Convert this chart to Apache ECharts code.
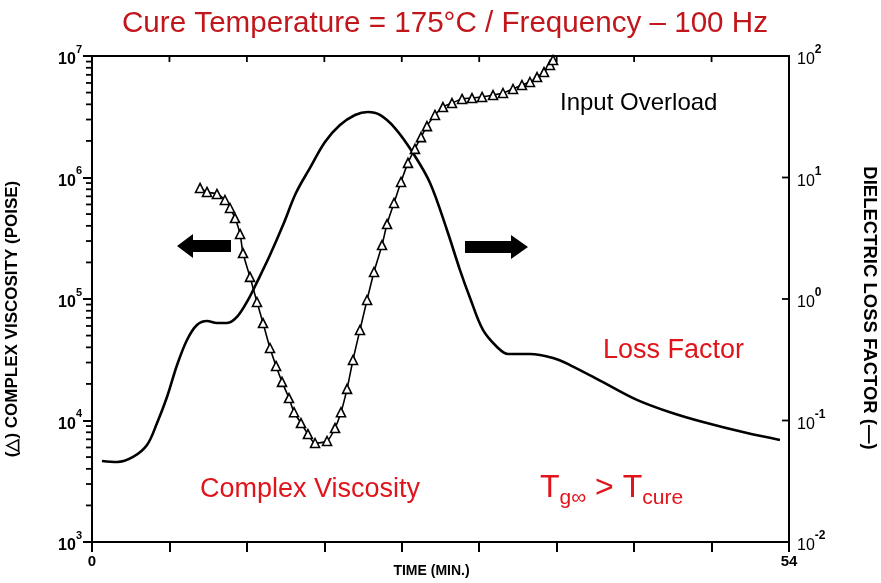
<!DOCTYPE html>
<html><head><meta charset="utf-8">
<script src="https://cdn.jsdelivr.net/npm/echarts@6/dist/echarts.min.js"></script>
<style>html,body{margin:0;padding:0;background:#fff}#c{width:881px;height:583px}</style>
</head><body><div id="c"></div>
<script>
// ---- data ----
const lossTime = [0.77,1.94,3.18,4.26,5.04,5.81,6.59,7.36,8.13,8.91,9.68,10.46,11.23,12.09,12.86,13.79,14.80,15.80,16.89,18.05,19.21,20.38,21.38,22.31,23.47,24.87,26.19,27.50,28.51,29.29,30.29,31.38,32.23,33.93,35.72,37.03,39.59,42.22,44.78,47.34,50.75,53.30];
const lossFactor = [0.0464,0.0455,0.0501,0.0628,0.0953,0.156,0.286,0.460,0.611,0.659,0.634,0.634,0.711,0.982,1.43,2.30,4.06,7.45,12.0,19.6,27.0,32.7,34.6,32.7,25.5,15.9,9.02,3.70,1.73,1.02,0.556,0.403,0.353,0.353,0.327,0.286,0.207,0.148,0.117,0.0972,0.0788,0.0692];
const viscTime = [8.37,8.91,9.68,10.30,10.69,11.08,11.47,11.70,12.24,12.78,13.25,13.79,14.26,14.72,15.26,15.65,16.19,16.73,17.28,18.21,18.83,19.29,19.76,20.22,20.76,21.31,21.85,22.47,22.86,23.40,23.94,24.48,25.02,25.49,25.95,26.57,27.19,27.89,28.67,29.44,30.22,31.07,31.84,32.62,33.31,33.93,34.48,35.02,35.48,35.72];
const viscosity = [8.20e5,7.60e5,7.32e5,6.53e5,5.61e5,4.64e5,3.43e5,2.39e5,1.52e5,9.45e4,6.34e4,3.95e4,2.81e4,2.08e4,1.53e4,1.17e4,9.53e3,7.74e3,6.53e3,6.78e3,8.67e3,1.17e4,1.82e4,3.15e4,5.56e4,9.82e4,1.67e5,2.78e5,4.14e5,6.17e5,9.19e5,1.32e6,1.72e6,2.15e6,2.65e6,3.27e6,3.80e6,4.10e6,4.43e6,4.51e6,4.60e6,4.77e6,4.96e6,5.35e6,5.77e6,6.11e6,6.71e6,7.38e6,8.43e6,9.27e6];
const xLabelled = [0, 54];
const xInnerTicks = [6, 12, 18, 24, 30, 36, 42, 48];
const rightInnerTicks = [0.1, 1, 10];
const leftDecades = [1e3, 1e4, 1e5, 1e6];
const minorMultipliers = [2, 3, 4, 5, 6, 7, 8, 9];

const minorTickValues = [];
leftDecades.forEach(d => minorMultipliers.forEach(m => minorTickValues.push([0, d * m])));

const FONT = 'Liberation Sans';
const RED = '#E0141B';
const exp = v => String(Math.round(Math.log10(v)));

const chart = echarts.init(document.getElementById('c'), null, {renderer: 'canvas'});
const axisLine = {show: true, onZero: false, lineStyle: {color: '#000', width: 2}};
const tickSeries = (name, yIdx, data, dx, dy) => ({
  name: name, type: 'custom', xAxisIndex: 0, yAxisIndex: yIdx, clip: false, silent: true, z: 5,
  data: data,
  renderItem: (params, api) => {
    const p = api.coord([api.value(0), api.value(1)]);
    return {type: 'line', shape: {x1: p[0] + dx, y1: p[1] + dy, x2: p[0], y2: p[1]},
            style: {stroke: '#000', lineWidth: 1.8}};
  }
});
const option = {
  animation: false,
  backgroundColor: '#fff',
  title: {
    text: 'Cure Temperature = 175°C / Frequency – 100 Hz',
    left: 117, top: 4,
    textStyle: {color: '#C0161C', fontSize: 29.6, fontWeight: 'normal', fontFamily: FONT}
  },
  grid: {left: 92, right: 92, top: 56, bottom: 41, outerBoundsMode: 'none', containLabel: false},
  xAxis: [{
    type: 'value', min: 0, max: 54, interval: 6, position: 'bottom',
    axisLine: axisLine,
    axisTick: {show: true, inside: false, length: 10, lineStyle: {color: '#000', width: 2}},
    axisLabel: {
      formatter: v => xLabelled.includes(v) ? String(v) : '',
      color: '#000', fontWeight: 'bold', fontSize: 15, fontFamily: FONT, margin: 12
    },
    splitLine: {show: false},
    name: 'TIME (MIN.)', nameLocation: 'middle', nameGap: 22, nameMoveOverlap: false,
    nameTextStyle: {color: '#000', fontWeight: 'bold', fontSize: 14, fontFamily: FONT, verticalAlign: 'top', padding: [0, 18, 0, 0]}
  }, {
    type: 'value', min: 0, max: 54, interval: 6, position: 'top',
    axisLine: axisLine,
    axisTick: {show: false},
    axisLabel: {show: false}, splitLine: {show: false}
  }],
  yAxis: [{
    type: 'log', logBase: 10, min: 1e3, max: 1e7, position: 'left',
    axisLine: axisLine,
    axisTick: {show: true, inside: false, length: 9, lineStyle: {color: '#000', width: 2}},
    axisLabel: {
      formatter: v => '{b|10}{s|' + exp(v) + '}',
      margin: 10,
      rich: {
        b: {fontSize: 16, fontWeight: 'bold', fontFamily: FONT, color: '#000', verticalAlign: 'bottom', lineHeight: 18},
        s: {fontSize: 11, fontWeight: 'bold', fontFamily: FONT, color: '#000', verticalAlign: 'top', lineHeight: 24}
      }
    },
    splitLine: {show: false},
    name: '(△) COMPLEX VISCOSITY (POISE)', nameLocation: 'middle', nameRotate: 90, nameGap: 71, nameMoveOverlap: false,
    nameTextStyle: {color: '#000', fontWeight: 'bold', fontSize: 17, fontFamily: FONT, padding: [0, 40, 0, 0]}
  }, {
    type: 'log', logBase: 10, min: 1e-2, max: 1e2, position: 'right',
    axisLine: axisLine,
    axisTick: {show: false},
    axisLabel: {
      formatter: v => '{b|10}{s|' + exp(v) + '}',
      margin: 8,
      rich: {
        b: {fontSize: 16, fontFamily: FONT, color: '#000', verticalAlign: 'bottom', lineHeight: 18},
        s: {fontSize: 12, fontWeight: 'bold', fontFamily: FONT, color: '#000', verticalAlign: 'top', lineHeight: 24}
      }
    },
    splitLine: {show: false},
    name: 'DIELECTRIC LOSS FACTOR (—)', nameLocation: 'middle', nameRotate: -90, nameGap: 71, nameMoveOverlap: false,
    nameTextStyle: {color: '#000', fontWeight: 'bold', fontSize: 18.5, fontFamily: FONT, padding: [0, 0, 0, 18]}
  }],
  series: [{
    name: 'Loss Factor', type: 'line', xAxisIndex: 0, yAxisIndex: 1,
    data: lossTime.map((t, i) => [t, lossFactor[i]]),
    smooth: 0.35, symbol: 'none',
    lineStyle: {color: '#000', width: 2.6}
  }, {
    name: 'Complex Viscosity', type: 'line', xAxisIndex: 0, yAxisIndex: 0,
    data: viscTime.map((t, i) => [t, viscosity[i]]),
    smooth: 0.3, symbol: 'triangle', symbolSize: 9, showAllSymbol: true,
    itemStyle: {color: '#fff', borderColor: '#000', borderWidth: 1.6},
    lineStyle: {color: '#000', width: 1.6}
  },
  tickSeries('minorTicks', 0, minorTickValues, -6, 0),
  tickSeries('topTicks', 1, xInnerTicks.map(t => [t, 100]), 0, 6),
  tickSeries('rightTicks', 1, rightInnerTicks.map(v => [54, v]), -7, 0)
  ],
  graphic: [
    {type: 'text', left: 560, top: 91, style: {text: 'Input Overload', fill: '#000', fontSize: 24, fontFamily: FONT}},
    {type: 'text', left: 603, top: 337, style: {text: 'Loss Factor', fill: RED, fontSize: 27, fontFamily: FONT}},
    {type: 'text', left: 200, top: 476, style: {text: 'Complex Viscosity', fill: RED, fontSize: 27, fontFamily: FONT}},
    {type: 'text', left: 540, top: 472, style: {
      text: '{m|T}{s|g∞}{m| > T}{s|cure}', fill: RED,
      rich: {
        m: {fontSize: 32, fontFamily: FONT, fill: RED, lineHeight: 42, verticalAlign: 'middle'},
        s: {fontSize: 21, fontFamily: FONT, fill: RED, lineHeight: 21, verticalAlign: 'bottom'}
      }}},
    {type: 'polygon', shape: {points: [[177,246],[193,234],[193,240],[231,240],[231,252],[193,252],[193,258]]}, style: {fill: '#000'}},
    {type: 'polygon', shape: {points: [[528,247],[511,235],[511,241],[465,241],[465,253],[511,253],[511,259]]}, style: {fill: '#000'}}
  ]
};
chart.setOption(option);
</script>
</body></html>
